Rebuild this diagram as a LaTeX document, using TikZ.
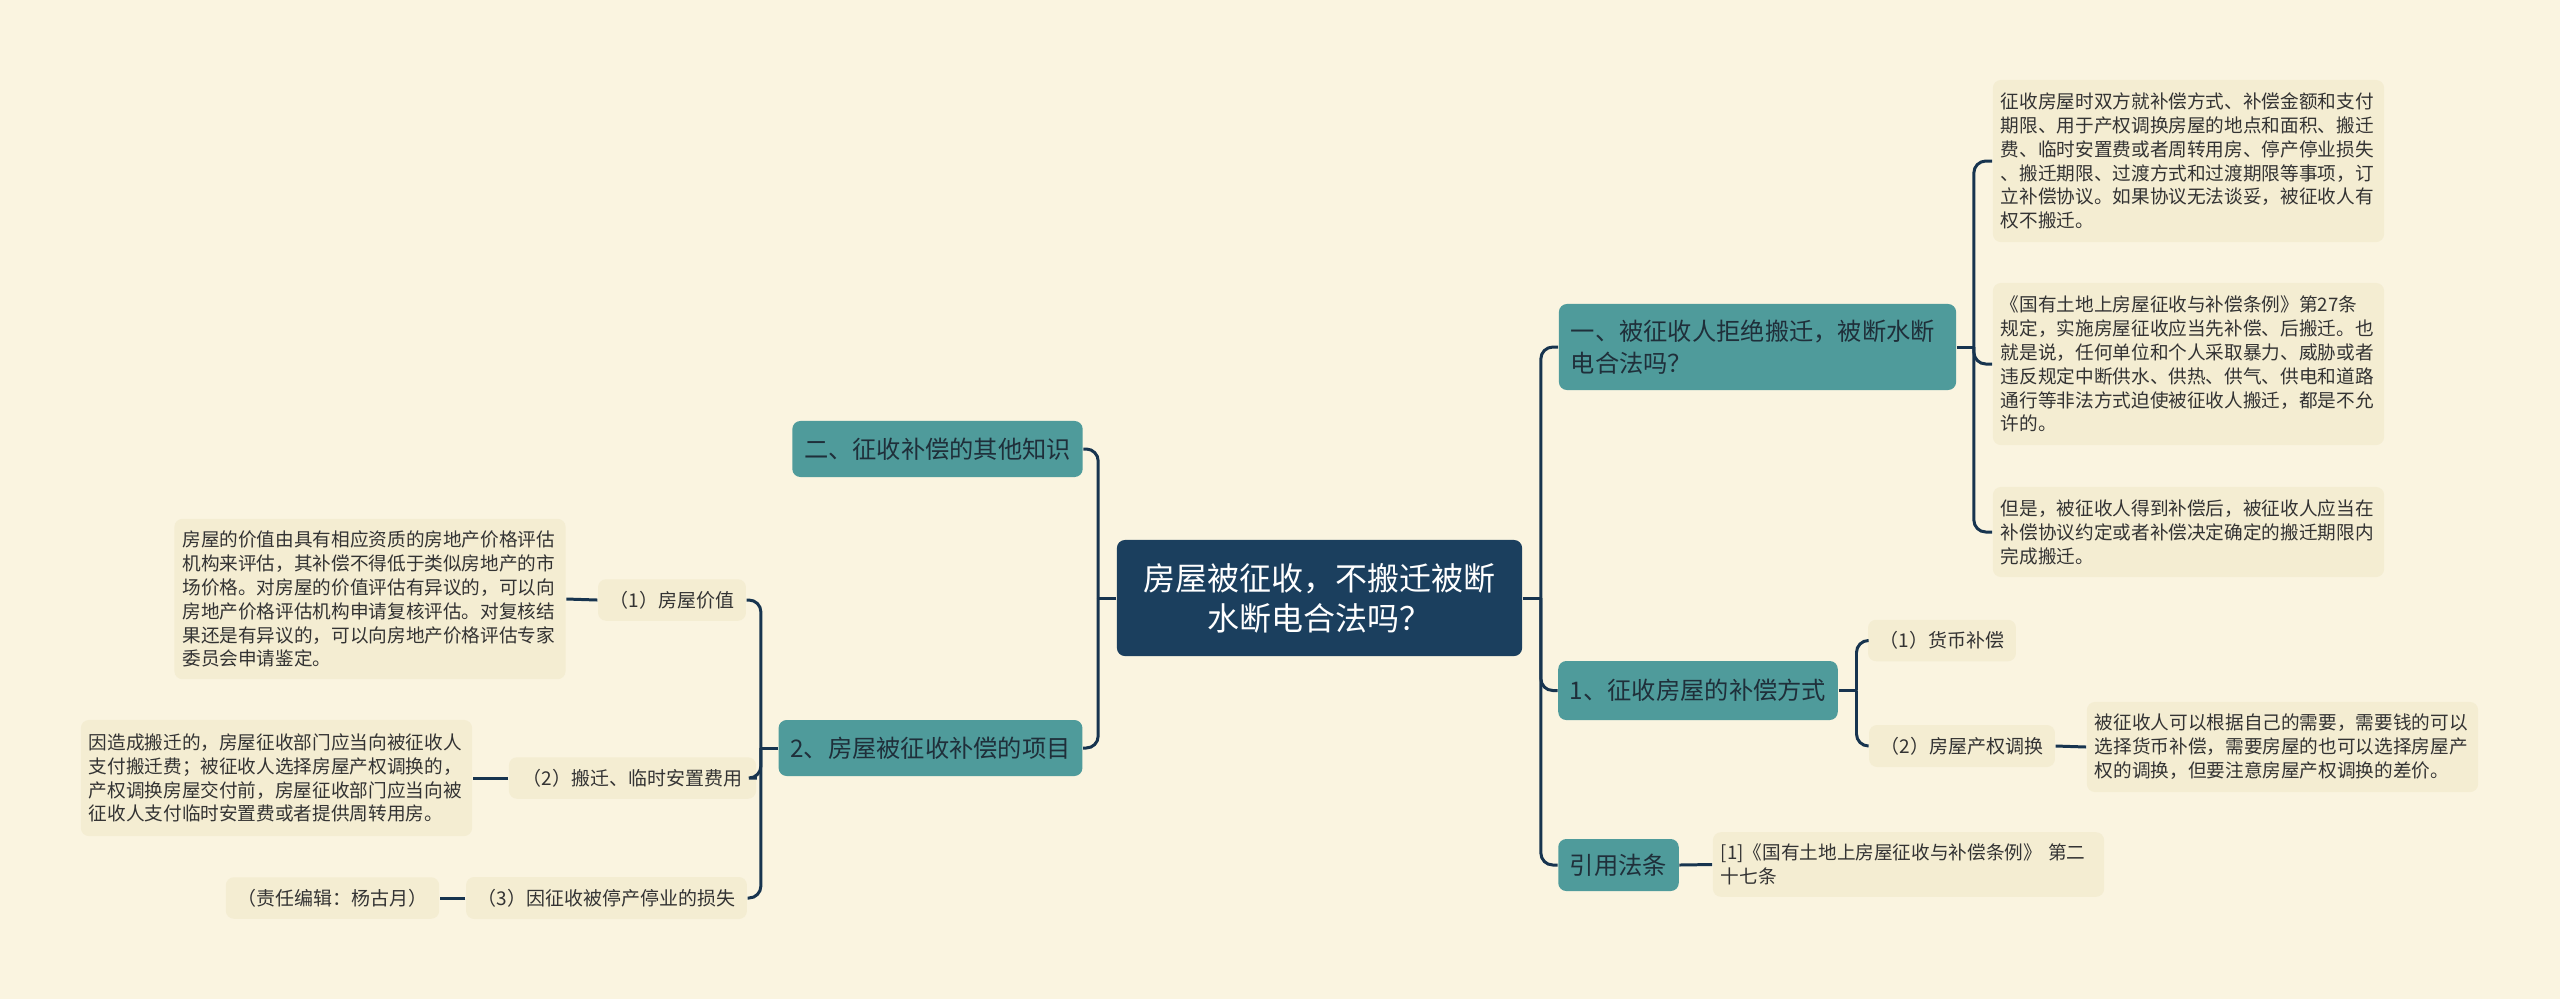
\documentclass[tikz,border=0pt]{standalone}
\usepackage{fontspec}
\setmainfont{Noto Sans CJK SC}
\definecolor{bgcream}{HTML}{FAF4E0}
\definecolor{rootblue}{HTML}{1B3F5E}
\definecolor{topicteal}{HTML}{4F9B9B}
\definecolor{notecream}{HTML}{F4EDD2}
\definecolor{linkblue}{HTML}{17344F}
\definecolor{inktext}{HTML}{1F2F3A}
\definecolor{notetext}{HTML}{333333}
\tikzset{
  link/.style={draw=linkblue,line width=0.85pt},
  elbow/.style={link,rounded corners=3.4pt},
  rootbox/.style={fill=rootblue,text=white,rounded corners=2.3pt,align=center,
    font=\fontsize{9.1}{11.4}\selectfont},
  topicbox/.style={fill=topicteal,text=inktext,rounded corners=2.3pt,align=left,
    font=\fontsize{6.9}{9.1}\selectfont},
  itembox/.style={fill=notecream,text=notetext,rounded corners=2.3pt,
    font=\fontsize{5.4}{6.8}\selectfont},
  notebox/.style={fill=notecream,text=notetext,rounded corners=2.3pt,align=left,
    text width=3.75cm,inner xsep=0.08cm,font=\fontsize{5.3}{6.8}\selectfont}
}
\begin{document}
\begin{tikzpicture}[x=0.01cm,y=-0.01cm]
  \useasboundingbox[fill=bgcream] (0,0) rectangle (2560,999);

  % centre
  \node[rootbox,minimum width=4.05cm,minimum height=1.16cm] (root) at (1319.5,598)
    {房屋被征收，不搬迁被断\\水断电合法吗？};

  % right side
  \node[topicbox,text width=3.73cm,inner xsep=0.12cm,minimum height=0.86cm] (refuse) at (1757.5,347)
    {一、被征收人拒绝搬迁，被断水断\\电合法吗？};
  \node[topicbox,minimum width=2.78cm,minimum height=0.59cm] (ways) at (1698,690.5)
    {1、征收房屋的补偿方式};
  \node[topicbox,minimum width=1.19cm,minimum height=0.52cm] (law) at (1618.5,865)
    {引用法条};

  \node[notebox,minimum height=1.62cm] (agree) at (2188.5,161)
    {征收房屋时双方就补偿方式、补偿金额和支付\\期限、用于产权调换房屋的地点和面积、搬迁\\费、临时安置费或者周转用房、停产停业损失\\、搬迁期限、过渡方式和过渡期限等事项，订\\立补偿协议。如果协议无法谈妥，被征收人有\\权不搬迁。};
  \node[notebox,minimum height=1.62cm] (rule) at (2188.5,364)
    {《国有土地上房屋征收与补偿条例》第27条\\规定，实施房屋征收应当先补偿、后搬迁。也\\就是说，任何单位和个人采取暴力、威胁或者\\违反规定中断供水、供热、供气、供电和道路\\通行等非法方式迫使被征收人搬迁，都是不允\\许的。};
  \node[notebox,minimum height=0.90cm] (butnote) at (2188.5,532)
    {但是，被征收人得到补偿后，被征收人应当在\\补偿协议约定或者补偿决定确定的搬迁期限内\\完成搬迁。};

  \node[itembox,minimum width=1.38cm,minimum height=0.41cm] (money) at (1942,640.5)
    {（1）货币补偿};
  \node[itembox,minimum width=1.78cm,minimum height=0.42cm] (swap) at (1962,746)
    {（2）房屋产权调换};
  \node[notebox,minimum height=0.90cm] (swapnote) at (2282.5,747)
    {被征收人可以根据自己的需要，需要钱的可以\\选择货币补偿，需要房屋的也可以选择房屋产\\权的调换，但要注意房屋产权调换的差价。};
  \node[notebox,minimum height=0.63cm] (cite) at (1908.5,864.5)
    {[1]《国有土地上房屋征收与补偿条例》 第二\\十七条};

  % left side
  \node[topicbox,minimum width=2.89cm,minimum height=0.56cm] (other) at (937.5,449)
    {二、征收补偿的其他知识};
  \node[topicbox,minimum width=3.03cm,minimum height=0.56cm] (items) at (930.5,748)
    {2、房屋被征收补偿的项目};

  \node[itembox,minimum width=1.42cm,minimum height=0.38cm] (value) at (672,600)
    {（1）房屋价值};
  \node[itembox,minimum width=2.47cm,minimum height=0.40cm] (move) at (632.5,778)
    {（2）搬迁、临时安置费用};
  \node[itembox,minimum width=2.73cm,minimum height=0.42cm] (loss) at (606.5,898)
    {（3）因征收被停产停业的损失};

  \node[notebox,minimum height=1.60cm] (valuenote) at (370,599)
    {房屋的价值由具有相应资质的房地产价格评估\\机构来评估，其补偿不得低于类似房地产的市\\场价格。对房屋的价值评估有异议的，可以向\\房地产价格评估机构申请复核评估。对复核结\\果还是有异议的，可以向房地产价格评估专家\\委员会申请鉴定。};
  \node[notebox,minimum height=1.16cm] (movenote) at (276.5,778)
    {因造成搬迁的，房屋征收部门应当向被征收人\\支付搬迁费；被征收人选择房屋产权调换的，\\产权调换房屋交付前，房屋征收部门应当向被\\征收人支付临时安置费或者提供周转用房。};
  \node[itembox,minimum width=2.07cm,minimum height=0.41cm] (editor) at (332.5,898)
    {（责任编辑：杨古月）};

  % connectors
  \path (root.east) ++(18,0) coordinate (rj);
  \draw[link] (root.east) -- (rj);
  \draw[elbow] (rj) |- (refuse.west);
  \draw[elbow] (rj) |- (ways.west);
  \draw[elbow] (rj) |- (law.west);

  \path (refuse.east) ++(17,0) coordinate (aj);
  \draw[link] (refuse.east) -- (aj);
  \draw[elbow] (aj) |- (agree.west);
  \draw[elbow] (aj) |- (rule.west);
  \draw[elbow] (aj) |- (butnote.west);

  \path (ways.east) ++(18,0) coordinate (wj);
  \draw[link] (ways.east) -- (wj);
  \draw[elbow] (wj) |- (money.west);
  \draw[elbow] (wj) |- (swap.west);
  \draw[link] (swap.east) -- (swapnote.west);
  \draw[link] (law.east) -- (cite.west);

  \path (root.west) ++(-18,0) coordinate (lj);
  \draw[link] (root.west) -- (lj);
  \draw[elbow] (lj) |- (other.east);
  \draw[elbow] (lj) |- (items.east);

  \path (items.west) ++(-17,0) coordinate (ij);
  \draw[link] (items.west) -- (ij);
  \draw[elbow] (ij) |- (value.east);
  \draw[elbow] (ij) |- (move.east);
  \draw[elbow] (ij) |- (loss.east);
  \draw[link] (value.west) -- (valuenote.east);
  \draw[link] (move.west) -- (movenote.east);
  \draw[link] (loss.west) -- (editor.east);
\end{tikzpicture}
\end{document}
